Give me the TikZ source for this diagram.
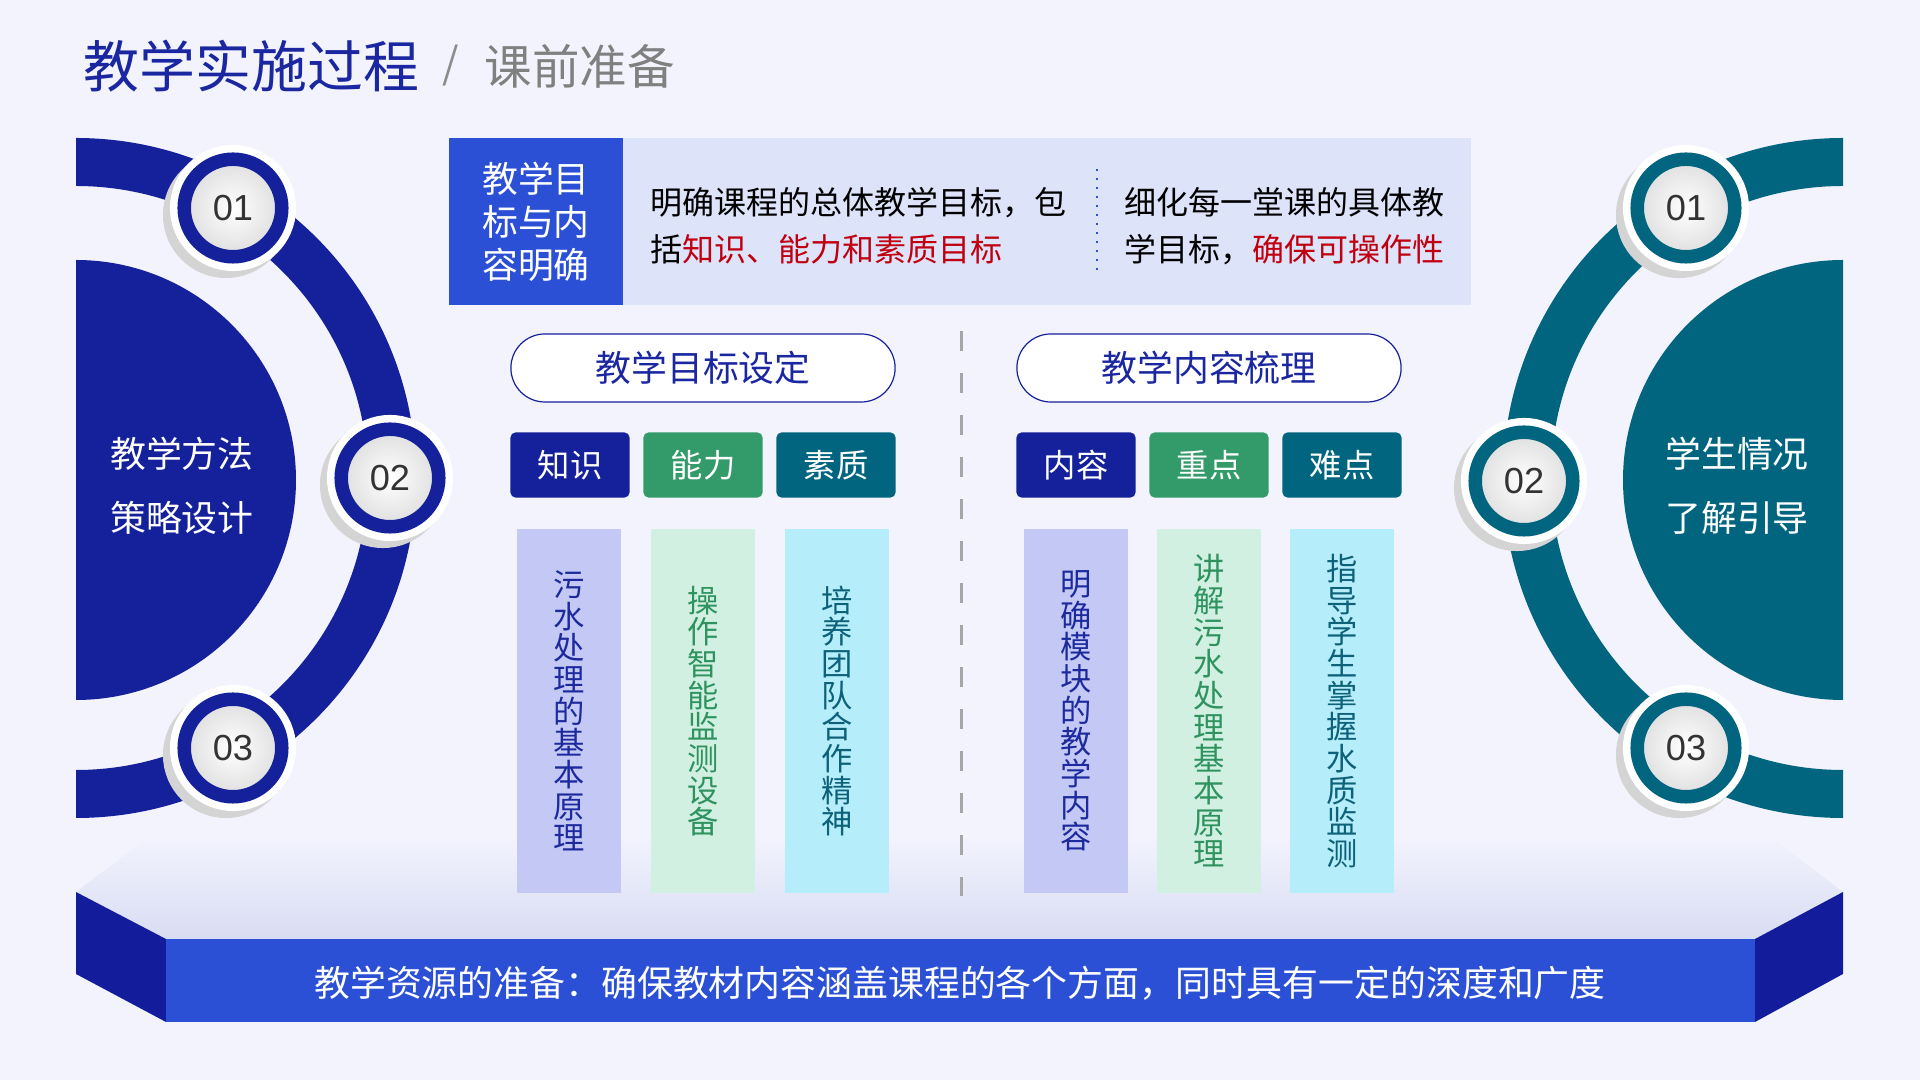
\documentclass[tikz,border=0pt]{standalone}
\usepackage{fontspec}
\setmainfont{Noto Sans CJK SC}
\newfontfamily\numfont{Liberation Sans}
\definecolor{bgc}{HTML}{F2F3FD}
\definecolor{navy}{HTML}{15209B}
\definecolor{tealc}{HTML}{02657F}
\definecolor{royal}{HTML}{2B50D6}
\definecolor{sidec}{HTML}{131C9A}
\definecolor{greenc}{HTML}{339A6A}
\definecolor{lavc}{HTML}{C3C8F5}
\definecolor{mintc}{HTML}{D2F0E1}
\definecolor{cyanc}{HTML}{B6EDFB}
\definecolor{boxlight}{HTML}{DDE3F8}
\definecolor{titleblue}{HTML}{1A27A0}
\definecolor{redtxt}{HTML}{C00010}
\definecolor{slabtop}{HTML}{D9DDF3}
\definecolor{txtnavy}{HTML}{1C2A9E}
\definecolor{txtgreen}{HTML}{2F935F}
\definecolor{txtteal}{HTML}{0D627A}

\begin{document}
\begin{tikzpicture}[x=0.01cm, y=-0.01cm,
    numc/.style={circle, inner sep=0pt, minimum size=9.75mm, line width=1.35mm, draw=#1,
      inner color=white, outer color=black!13, text=black!80,
      font=\numfont\fontsize{10.3}{12}\selectfont,
      preaction={fill=black!17, draw=black!17, line width=2.85mm,
        transform canvas={shift={(-0.07cm,-0.07cm)}}},
      preaction={fill=white, draw=white, line width=2.85mm}},
    side/.style={text=white, align=center, font=\fontsize{10.2}{18.2}\selectfont},
    desc/.style={anchor=west, inner sep=0pt, align=left, font=\fontsize{9.1}{13.4}\selectfont},
    pill/.style={draw=navy, line width=0.12mm, fill=white, rounded corners=3.4mm,
      minimum width=38.4mm, minimum height=6.8mm, text=titleblue,
      font=\fontsize{10.2}{12}\selectfont},
    tag/.style={rounded corners=0.5mm, minimum width=11.9mm, minimum height=6.5mm,
      text=white, font=\fontsize{9.2}{11}\selectfont},
    colbox/.style={minimum width=10.4mm, minimum height=36.3mm, inner sep=0pt,
      align=center, font=\fontsize{8.9}{9}\selectfont},
    divider/.style={draw=black!35, line width=0.3mm, dash pattern=on 2mm off 2.2mm}
  ]
    \fill[bgc] (0,0) rectangle (1920,1080);
    \useasboundingbox (0,0) rectangle (1920,1080);

    % heading
    \node[anchor=west, inner sep=0pt, text=titleblue, font=\fontsize{15.9}{18}\selectfont] (title) at (83,66) {教学实施过程};
    \node[text=black!45, font=\fontsize{12}{14}\selectfont] (slash) at (451,66) {/};
    \node[anchor=west, inner sep=0pt, text=black!50, font=\fontsize{13.5}{16}\selectfont] (subtitle) at (484,66) {课前准备};

    % left half ring
    \fill[navy] (76,138) arc[start angle=-90, end angle=90, radius=340] -- (76,770)
      arc[start angle=90, end angle=-90, radius=292] -- cycle;
    \fill[navy] (76,260) arc[start angle=-90, end angle=90, radius=220] -- cycle;
    \node[side] (lefttxt) at (182,486) {教学方法\\策略设计};
    \node[numc=navy] (ln1) at (233,208) {01};
    \node[numc=navy] (ln2) at (390,478) {02};
    \node[numc=navy] (ln3) at (233,748) {03};

    % right half ring
    \fill[tealc] (1843,138) arc[start angle=-90, end angle=-270, radius=340] -- (1843,770)
      arc[start angle=-270, end angle=-90, radius=292] -- cycle;
    \fill[tealc] (1843,260) arc[start angle=-90, end angle=-270, radius=220] -- cycle;
    \node[side] (righttxt) at (1737,486) {学生情况\\了解引导};
    \node[numc=tealc] (rn1) at (1686,208) {01};
    \node[numc=tealc] (rn2) at (1524,481) {02};
    \node[numc=tealc] (rn3) at (1686,748) {03};

    % top banner
    \fill[boxlight] (623,138) rectangle (1471,305);
    \fill[royal] (449,138) rectangle (623,305);
    \node[text=white, align=center, font=\fontsize{10.2}{12.2}\selectfont] (goal) at (536,222) {教学目\\标与内\\容明确};
    \node[desc] (goalL) at (650,226) {明确课程的总体教学目标，包\\括\textcolor{redtxt}{知识、能力和素质目标}};
    \node[desc] (goalR) at (1124,226) {细化每一堂课的具体教\\学目标，\textcolor{redtxt}{确保可操作性}};
    \draw[royal, dotted, line width=0.2mm] (1097,169) -- (1097,277);

    % platform
    \shade[top color=bgc, bottom color=slabtop] (76,892) -- (150,836) -- (1769,836)
      -- (1843,892) -- (1755,939) -- (166,939) -- cycle;
    \fill[sidec] (76,892) -- (166,939) -- (166,1022) -- (76,974) -- cycle;
    \fill[sidec] (1843,892) -- (1755,939) -- (1755,1022) -- (1843,974) -- cycle;
    \fill[royal] (166,939) rectangle (1755,1022);
    \node[text=white, font=\fontsize{10.2}{12}\selectfont] (resource) at (960,983) {教学资源的准备：确保教材内容涵盖课程的各个方面，同时具有一定的深度和广度};

    \draw[divider] (961,331) -- (961,896);

    % goal setting
    \node[pill] (setgoal) at (703,368) {教学目标设定};
    \node[tag, fill=navy] (know) at (570,465) {知识};
    \node[tag, fill=greenc] (able) at (703,465) {能力};
    \node[tag, fill=tealc] (qual) at (836,465) {素质};
    \node[colbox, fill=lavc, text=txtnavy] (c1) at (569,711) {污\\水\\处\\理\\的\\基\\本\\原\\理};
    \node[colbox, fill=mintc, text=txtgreen] (c2) at (703,711) {操\\作\\智\\能\\监\\测\\设\\备};
    \node[colbox, fill=cyanc, text=txtteal] (c3) at (837,711) {培\\养\\团\\队\\合\\作\\精\\神};

    % content arrangement
    \node[pill] (sortcont) at (1209,368) {教学内容梳理};
    \node[tag, fill=navy] (cont) at (1076,465) {内容};
    \node[tag, fill=greenc] (key) at (1209,465) {重点};
    \node[tag, fill=tealc] (hard) at (1342,465) {难点};
    \node[colbox, fill=lavc, text=txtnavy] (c4) at (1076,711) {明\\确\\模\\块\\的\\教\\学\\内\\容};
    \node[colbox, fill=mintc, text=txtgreen] (c5) at (1209,711) {讲\\解\\污\\水\\处\\理\\基\\本\\原\\理};
    \node[colbox, fill=cyanc, text=txtteal] (c6) at (1342,711) {指\\导\\学\\生\\掌\\握\\水\\质\\监\\测};
\end{tikzpicture}
\end{document}
